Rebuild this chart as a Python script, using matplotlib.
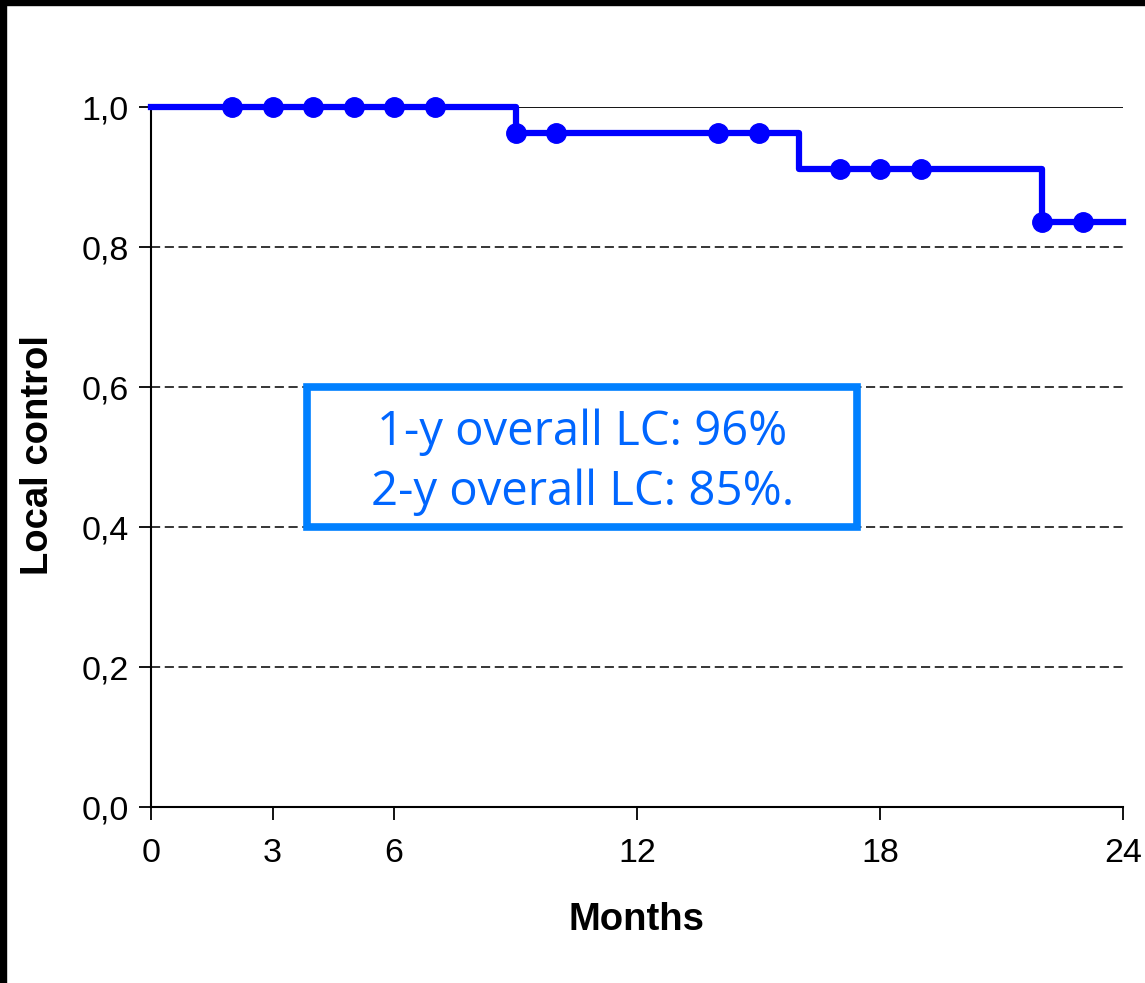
import matplotlib.pyplot as plt
from matplotlib.patches import Rectangle

plt.rcParams["font.family"] = ["Liberation Sans", "DejaVu Sans"]

# step curve (time in months, local control)
step_times = [0, 9, 16, 22, 24]
step_values = [1.0, 0.963, 0.912, 0.836, 0.836]

# censored observations
censor_times = [2, 3, 4, 5, 6, 7, 9, 10, 14, 15, 17, 18, 19, 22, 23]
censor_values = [1.0, 1.0, 1.0, 1.0, 1.0, 1.0, 0.963, 0.963, 0.963, 0.963,
                 0.912, 0.912, 0.912, 0.836, 0.836]

x_ticks = [0, 3, 6, 12, 18, 24]
y_ticks = [0.0, 0.2, 0.4, 0.6, 0.8, 1.0]
y_tick_labels = ["0,0", "0,2", "0,4", "0,6", "0,8", "1,0"]

box_lines = ["1-y overall LC: 96%", "2-y overall LC: 85%."]

fig = plt.figure(figsize=(11.45, 9.83), dpi=100)
ax = fig.add_axes([151 / 1145, 1 - 807 / 983, (1123 - 151) / 1145, 700 / 983])

# gridlines
for yv in y_ticks[1:]:
    if yv == 1.0:
        ax.axhline(yv, color="black", lw=1.3, zorder=1)
    else:
        ax.axhline(yv, color="black", lw=1.1, ls=(0, (6, 3)), zorder=1)

ax.step(step_times, step_values, where="post", color="#0000ff", lw=4.5,
        zorder=3, solid_joinstyle="round", clip_on=False)
ax.plot(censor_times, censor_values, "o", color="#0000ff", ms=14, zorder=4,
        clip_on=False)

ax.set_xlim(0, 24)
ax.set_ylim(0, 1.0)
ax.set_xticks(x_ticks)
ax.set_yticks(y_ticks)
ax.set_yticklabels(y_tick_labels)
ax.tick_params(axis="both", labelsize=24.5, length=9, width=1.3, direction="out")
ax.tick_params(axis="x", pad=13)
ax.tick_params(axis="y", pad=7)

for s in ["top", "right"]:
    ax.spines[s].set_visible(False)
for s in ["left", "bottom"]:
    ax.spines[s].set_linewidth(1.5)

ax.set_xlabel("Months", fontsize=27.5, fontweight="bold")
ax.set_ylabel("Local control", fontsize=27.5, fontweight="bold")
ax.xaxis.set_label_coords(0.499, -0.136)
ax.yaxis.set_label_coords(-0.098, 0.503)

# annotation box
ax.text(10.65, 0.536, box_lines[0], fontsize=34, color="#0066ff",
        family="Open Sans", ha="center", va="center", zorder=6)
ax.text(10.65, 0.449, box_lines[1], fontsize=34, color="#0066ff",
        family="Open Sans", ha="center", va="center", zorder=6)
ax.add_patch(Rectangle((3.85, 0.4), 13.58, 0.2, facecolor="white",
                       edgecolor="#0080ff", lw=5.5, zorder=5))

# black frame on left and top of the figure
fig.patches.append(Rectangle((0, 0), 6 / 1145, 1, transform=fig.transFigure,
                             color="black"))
fig.patches.append(Rectangle((0, 1 - 5 / 983), 1, 5 / 983,
                             transform=fig.transFigure, color="black"))

fig.savefig("out.png", dpi=100)
